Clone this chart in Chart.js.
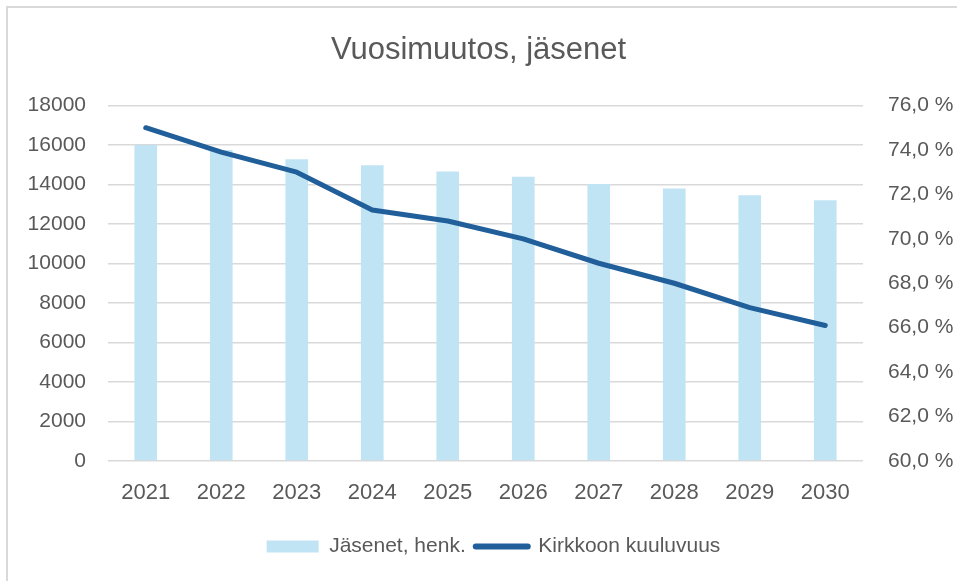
<!DOCTYPE html>
<html>
<head>
<meta charset="utf-8">
<script src="https://cdn.jsdelivr.net/npm/chart.js@4/dist/chart.umd.min.js"></script>
<style>
  html, body { margin: 0; padding: 0; background: #fff; }
  .frame {
    position: absolute; left: 0; top: 0; width: 957px; height: 581px; overflow: hidden;
  }
  .border {
    position: absolute; left: 6px; top: 6px; width: 1000px; height: 700px;
    border-left: 2px solid #d9d9d9; border-top: 2px solid #d9d9d9;
  }
  canvas { position: absolute; left: 0; top: 0; }
</style>
</head>
<body>
<div class="frame">
  <div class="border"></div>
  <canvas id="chart" width="957" height="581"></canvas>
</div>
<script>
const years = ['2021', '2022', '2023', '2024', '2025', '2026', '2027', '2028', '2029', '2030'];
const members = [16000, 15750, 15280, 14970, 14660, 14390, 14030, 13800, 13460, 13200];
const membershipPct = [75.0, 73.9, 73.0, 71.3, 70.8, 70.0, 68.9, 68.0, 66.9, 66.1];

const textColor = '#595959';
const barColor = '#c1e4f5';
const lineColor = '#215f9a';
const fontFamily = '"Liberation Sans", Arial, sans-serif';

// legend sits a bit right of centre in the original
const legendShift = {
    id: 'legendShift',
    afterLayout(chart) {
        chart.legend.left += 15;
        chart.legend.right += 15;
    }
};

const ctx = document.getElementById('chart').getContext('2d');

new Chart(ctx, {
    type: 'bar',
    data: {
        labels: years,
        datasets: [
            {
                type: 'bar',
                label: 'Jäsenet, henk.',
                data: members,
                backgroundColor: barColor,
                yAxisID: 'y',
                categoryPercentage: 1,
                barPercentage: 0.3,
                order: 2
            },
            {
                type: 'line',
                label: 'Kirkkoon kuuluvuus',
                data: membershipPct,
                borderColor: lineColor,
                backgroundColor: lineColor,
                borderWidth: 5,
                borderCapStyle: 'round',
                borderJoinStyle: 'round',
                pointRadius: 0,
                pointHoverRadius: 0,
                tension: 0,
                yAxisID: 'y1',
                order: 1
            }
        ]
    },
    plugins: [legendShift],
    options: {
        responsive: false,
        animation: false,
        layout: { padding: { top: 0, left: 0, right: 0, bottom: 14 } },
        plugins: {
            title: {
                display: true,
                text: 'Vuosimuutos, jäsenet',
                color: textColor,
                font: { family: fontFamily, size: 31, weight: 'normal' },
                padding: { top: 32, bottom: 36.3 }
            },
            legend: {
                position: 'bottom',
                labels: {
                    color: textColor,
                    font: { family: fontFamily, size: 21 },
                    usePointStyle: true,
                    pointStyleWidth: 52,
                    boxHeight: 12,
                    padding: 10,
                    generateLabels: () => [
                        {
                            text: 'Jäsenet, henk.',
                            fillStyle: barColor,
                            strokeStyle: barColor,
                            lineWidth: 0,
                            pointStyle: 'rect',
                            fontColor: textColor,
                            datasetIndex: 0
                        },
                        {
                            text: 'Kirkkoon kuuluvuus',
                            fillStyle: lineColor,
                            strokeStyle: lineColor,
                            lineWidth: 6,
                            lineCap: 'round',
                            pointStyle: 'line',
                            fontColor: textColor,
                            datasetIndex: 1
                        }
                    ]
                }
            },
            tooltip: { enabled: false }
        },
        scales: {
            x: {
                grid: { display: false, drawTicks: false },
                border: { display: false },
                ticks: { color: textColor, font: { family: fontFamily, size: 22 }, padding: 19, maxRotation: 0 },
                afterFit: (scale) => { scale.height = 65; }
            },
            y: {
                position: 'left',
                min: 0,
                max: 18000,
                ticks: {
                    stepSize: 2000,
                    color: textColor,
                    font: { family: fontFamily, size: 21 },
                    padding: 22,
                    callback: (v) => String(v)
                },
                grid: { color: '#d9d9d9', lineWidth: 1.5, drawTicks: false },
                border: { display: false },
                afterFit: (scale) => { scale.width = 108; }
            },
            y1: {
                position: 'right',
                min: 60,
                max: 76,
                ticks: {
                    stepSize: 2,
                    color: textColor,
                    font: { family: fontFamily, size: 21 },
                    padding: 25,
                    callback: (v) => v.toFixed(1).replace('.', ',') + ' %'
                },
                grid: { display: false, drawTicks: false },
                border: { display: false },
                afterFit: (scale) => { scale.width = 94; }
            }
        }
    }
});
</script>
</body>
</html>
